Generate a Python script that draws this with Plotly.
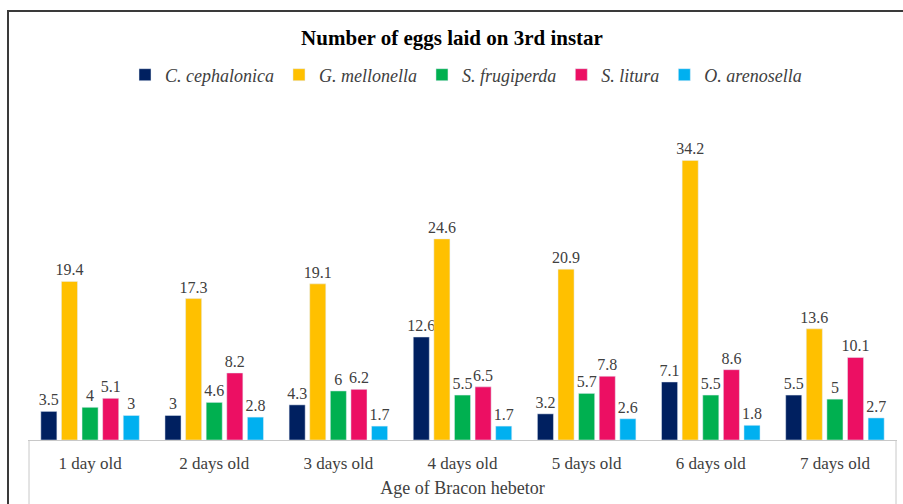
import plotly.graph_objects as go

categories = ["1 day old", "2 days old", "3 days old", "4 days old", "5 days old", "6 days old", "7 days old"]
series_names = ["C. cephalonica", "G. mellonella", "S. frugiperda", "S. litura", "O. arenosella"]
c_cephalonica = [3.5, 3, 4.3, 12.6, 3.2, 7.1, 5.5]
g_mellonella = [19.4, 17.3, 19.1, 24.6, 20.9, 34.2, 13.6]
s_frugiperda = [4, 4.6, 6, 5.5, 5.7, 5.5, 5]
s_litura = [5.1, 8.2, 6.2, 6.5, 7.8, 8.6, 10.1]
o_arenosella = [3, 2.8, 1.7, 1.7, 2.6, 1.8, 2.7]
series_values = [c_cephalonica, g_mellonella, s_frugiperda, s_litura, o_arenosella]
colors = ["#002060", "#FFC000", "#00B050", "#EC0F63", "#00B0F0"]

FONT = "Liberation Serif, Times New Roman, serif"

fig = go.Figure()
for name, vals, col in zip(series_names, series_values, colors):
    fig.add_trace(go.Bar(
        x=categories, y=vals, name=name, marker_color=col,
        text=[f"{v:g}" for v in vals], textposition="outside",
        constraintext="none", cliponaxis=False,
        textfont=dict(family=FONT, size=16, color="#404040"),
    ))

# plot area: x 28..897, y 113..440
L, R, T, B = 28, 6, 113, 64
pw, ph = 903 - L - R, 504 - T - B

def px(x):
    return (x - L) / pw

def py(y):
    return (504 - B - y) / ph

shapes = [
    dict(type="line", xref="paper", yref="paper", x0=px(8), x1=px(8), y0=py(504), y1=py(11),
         line=dict(color="#3a3a3a", width=2)),
    dict(type="line", xref="paper", yref="paper", x0=px(7), x1=px(903), y0=py(11), y1=py(11),
         line=dict(color="#3a3a3a", width=2)),
    dict(type="line", xref="paper", yref="paper", x0=px(29), x1=px(29), y0=0, y1=py(504),
         line=dict(color="#c8c8c8", width=1)),
    dict(type="line", xref="paper", yref="paper", x0=px(896), x1=px(896), y0=0, y1=py(504),
         line=dict(color="#c8c8c8", width=1)),
]

fig.update_layout(
    width=903, height=504,
    margin=dict(l=L, r=R, t=T, b=B),
    paper_bgcolor="white", plot_bgcolor="white",
    barmode="group", bargap=0.17, bargroupgap=0.22,
    title=dict(text="<b>Number of eggs laid on 3rd instar</b>", x=px(463), xanchor="center",
               y=1 - 38 / 504, yanchor="middle",
               font=dict(family=FONT, size=21, color="#000000")),
    legend=dict(orientation="h", x=px(466), xanchor="center", y=py(75), yanchor="middle",
                font=dict(family=FONT, size=18, color="#404040", style="italic"),
                itemwidth=30, traceorder="normal", bgcolor="rgba(0,0,0,0)"),
    xaxis=dict(showline=True, linecolor="#c8c8c8", linewidth=1, ticks="",
               tickfont=dict(family=FONT, size=17, color="#404040"),
               ticklabelstandoff=8,
               title=dict(text="Age of Bracon hebetor", standoff=8,
                          font=dict(family=FONT, size=18, color="#404040"))),
    yaxis=dict(range=[0, 40], visible=False, showgrid=False, zeroline=False),
    shapes=shapes,
    showlegend=True,
)

fig.write_html("out.html")
